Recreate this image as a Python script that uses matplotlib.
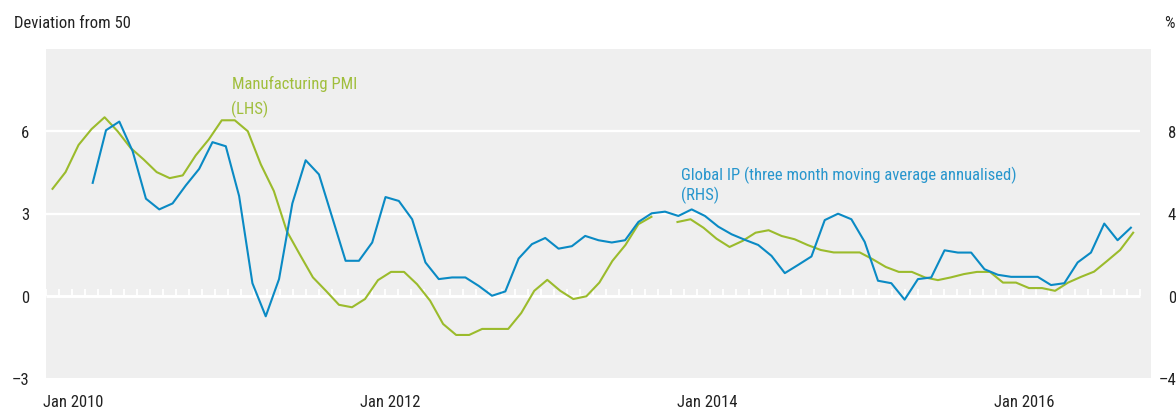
import numpy as np
import matplotlib
matplotlib.use("Agg")
import matplotlib.pyplot as plt
from matplotlib import font_manager as fm

# ---------------- data ----------------
# Manufacturing PMI, deviation from 50 (LHS), monthly Jan 2010 - Dec 2016 (Dec 2013 missing)
pmi = [3.90, 4.51, 5.50, 6.08, 6.51, 6.00, 5.39, 4.97, 4.51, 4.29, 4.39, 5.12,
       5.70, 6.40, 6.40, 6.00, 4.79, 3.82, 2.35, 1.50, 0.67, 0.18, -0.33, -0.42,
       -0.12, 0.57, 0.87, 0.87, 0.42, -0.18, -1.03, -1.43, -1.43, -1.21, -1.21, -1.21,
       -0.63, 0.18, 0.58, 0.18, -0.12, -0.02, 0.48, 1.27, 1.85, 2.61, 2.88, np.nan,
       2.69, 2.79, 2.48, 2.08, 1.78, 2.00, 2.30, 2.39, 2.18, 2.06, 1.85, 1.67,
       1.58, 1.58, 1.58, 1.33, 1.05, 0.87, 0.87, 0.67, 0.57, 0.67, 0.79, 0.87,
       0.87, 0.48, 0.48, 0.28, 0.28, 0.18, 0.48, 0.69, 0.88, 1.27, 1.67, 2.30]

# Global IP, three month moving average annualised, % (RHS), monthly Apr 2010 - Oct 2016
global_ip = [5.49, 8.05, 8.47, 7.03, 4.72, 4.20, 4.49, 5.37, 6.17,
             7.47, 7.27, 4.85, 0.61, -1.00, 0.81, 4.49, 6.59, 5.90, 3.80, 1.70, 1.70,
             2.59, 4.80, 4.61, 3.72, 1.62, 0.81, 0.89, 0.89, 0.48, 0.00, 0.21, 1.81,
             2.51, 2.81, 2.29, 2.41, 2.91, 2.70, 2.59, 2.70, 3.59, 4.01, 4.09, 3.88,
             4.20, 3.88, 3.36, 2.99, 2.72, 2.47, 1.94, 1.10, 1.50, 1.91, 3.68, 3.99,
             3.72, 2.62, 0.73, 0.61, -0.19, 0.81, 0.89, 2.21, 2.10, 2.10, 1.29, 1.02,
             0.92, 0.92, 0.92, 0.52, 0.61, 1.62, 2.10, 3.51, 2.70, 3.31]

pmi_start = 0      # Jan 2010
ip_start = 3       # Apr 2010

left_ticks = [-3, 0, 3, 6]
left_labels = ["\u20133", "0", "3", "6"]
right_ticks = [-4, 0, 4, 8]
right_labels = ["\u20134", "0", "4", "8"]
x_labels = ["Jan 2010", "Jan 2012", "Jan 2014", "Jan 2016"]

# ---------------- fonts ----------------
def pick_condensed():
    prefs = ["Liberation Sans Narrow", "Roboto Condensed", "Open Sans Condensed",
             "Noto Sans", "Open Sans", "Roboto", "DejaVu Sans"]
    cands = []
    for f in fm.fontManager.ttflist:
        nm = f.name
        fn = f.fname.lower()
        narrow = ("narrow" in nm.lower() or "condensed" in nm.lower()
                  or "narrow" in fn or "condensed" in fn
                  or str(f.stretch) in ("condensed", "semi-condensed", "extra-condensed"))
        if not narrow:
            continue
        if "semicondensed" in fn or "extracondensed" in fn:
            pass
        if str(f.style) != "normal":
            continue
        w = f.weight
        try:
            w = int(w)
        except Exception:
            w = 400 if str(w) in ("normal", "regular", "book") else 700
        if w != 400:
            continue
        base = fn.split("/")[-1]
        if any(k in base for k in ("bold", "italic", "oblique", "light", "thin", "medium", "black", "semibold")):
            continue
        if "extracondensed" in base or "ultracondensed" in base:
            continue
        rank = len(prefs)
        for i, p in enumerate(prefs):
            if nm.startswith(p):
                rank = i
                break
        # prefer true condensed over semi-condensed
        semi = 1 if "semicondensed" in base else 0
        cands.append((rank, semi, f.fname))
    if cands:
        cands.sort()
        return cands[0][2]
    return None

cond_path = pick_condensed()
if cond_path:
    FP = fm.FontProperties(fname=cond_path)
else:
    FP = fm.FontProperties(family=["Liberation Sans", "DejaVu Sans"])

W, H = 1176, 410
fig = plt.figure(figsize=(W / 100, H / 100), dpi=100)
fig.patch.set_facecolor("white")

# size the font so the long annotation has the reference width (335 px)
probe = fig.text(0, 0, "Global IP (three month moving average annualised)",
                 fontproperties=FP, fontsize=10)
fig.canvas.draw()
wpx = probe.get_window_extent(fig.canvas.get_renderer()).width
probe.remove()
FS = 10 * 335.0 / wpx
FS = min(FS, 13.2)

def font(size=None):
    p = FP.copy()
    p.set_size(size if size else FS)
    return p

GREEN = "#9bbb2c"
BLUE = "#0a8ac4"
GREEN_TXT = "#a0be3c"
BLUE_TXT = "#2896cd"
BG = "#efefef"
TXT = "#222222"

L, R, T, B = 46, 1151, 50, 379
rect = [L / W, 1 - B / H, (R - L) / W, (B - T) / H]

ax = fig.add_axes(rect)
ax.set_facecolor(BG)
for s in ax.spines.values():
    s.set_visible(False)

px_per_month_g = 13.02
x0_g = -0.5
ax.set_xlim(x0_g, x0_g + (R - L) / px_per_month_g)
ax.set_ylim(-3, 9)

n_months = 84
ax.hlines([3, 6], x0_g, x0_g + n_months, color="white", lw=1.7, zorder=1)
ax.hlines(0, x0_g, x0_g + n_months, color="white", lw=2.1, zorder=1)
ax.vlines(np.arange(n_months + 1) + x0_g, 0, 0.23, color="white", lw=1.3, zorder=1)

xg = np.arange(len(pmi)) + pmi_start
ax.plot(xg, pmi, color=GREEN, lw=1.5, zorder=3)

ax.set_xticks([])
ax.set_yticks(left_ticks)
ax.set_yticklabels(left_labels, color=TXT)
for lab in ax.get_yticklabels():
    lab.set_fontproperties(font())
ax.tick_params(axis="y", length=0, pad=12.0)

ax2 = fig.add_axes(rect)
ax2.set_facecolor("none")
for s in ax2.spines.values():
    s.set_visible(False)
px_per_month_b = 13.31
x0_b = ip_start + (L - 92.7) / px_per_month_b
ax2.set_xlim(x0_b, x0_b + (R - L) / px_per_month_b)
ax2.set_ylim(-4, 12)
xb = np.arange(len(global_ip)) + ip_start
ax2.plot(xb, global_ip, color=BLUE, lw=1.5, zorder=4)
ax2.set_xticks([])
ax2.yaxis.tick_right()
ax2.set_yticks(right_ticks)
ax2.set_yticklabels(right_labels, color=TXT)
for lab in ax2.get_yticklabels():
    lab.set_fontproperties(font())
    lab.set_ha("right")
ax2.tick_params(axis="y", length=0, pad=(W - R) * 0.72)

label_x_px = [42.7, 360.0, 676.7, 994.3]
for lab, px in zip(x_labels, label_x_px):
    fig.text(px / W, 1 - 407.5 / H, lab, ha="left", va="baseline",
             fontproperties=font(), color=TXT)

fig.text(14 / W, 1 - 28.5 / H, "Deviation from 50", ha="left", va="baseline",
         fontproperties=font(), color=TXT)
fig.text(1175 / W, 1 - 28.5 / H, "%", ha="right", va="baseline",
         fontproperties=font(), color=TXT)

fig.text(231.5 / W, 1 - 89.3 / H, "Manufacturing PMI", ha="left", va="baseline",
         fontproperties=font(), color=GREEN_TXT)
fig.text(231.5 / W, 1 - 113.8 / H, "(LHS)", ha="left", va="baseline",
         fontproperties=font(), color=GREEN_TXT)
fig.text(681 / W, 1 - 180 / H, "Global IP (three month moving average annualised)",
         ha="left", va="baseline", fontproperties=font(), color=BLUE_TXT)
fig.text(681 / W, 1 - 200.5 / H, "(RHS)", ha="left", va="baseline",
         fontproperties=font(), color=BLUE_TXT)

fig.savefig("out.png", dpi=100, facecolor="white")
